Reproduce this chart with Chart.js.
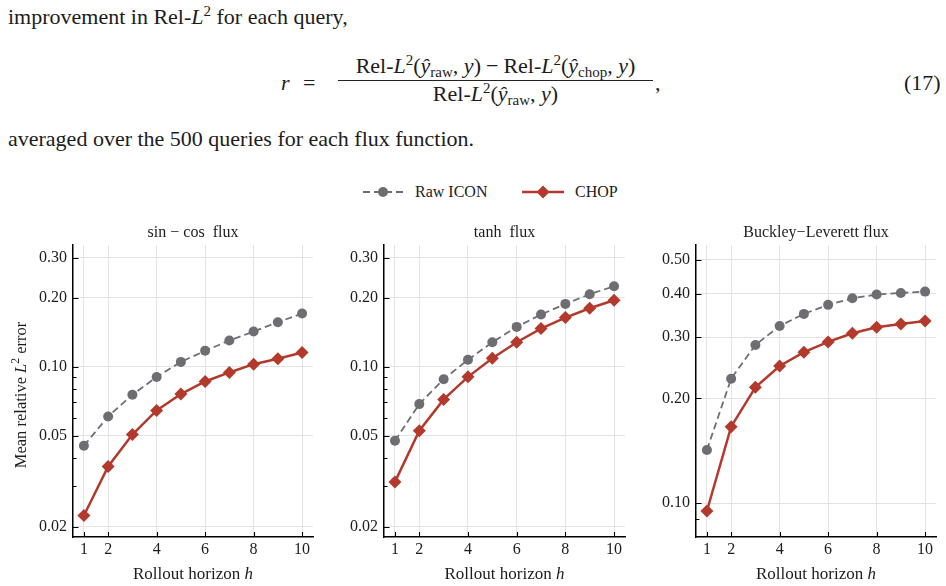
<!DOCTYPE html>
<html lang="en">
<head>
<meta charset="UTF-8">
<title>Mean relative L2 error vs rollout horizon</title>
<script src="https://cdn.jsdelivr.net/npm/chart.js"></script>
<style>
  body { margin: 0; width: 946px; height: 586px; background: #fff; position: relative; overflow: hidden;
         font-family: "Liberation Serif", serif; color: #1c1c1c; }
  .tx { position: absolute; font-size: 22px; line-height: 22px; white-space: nowrap; }
  .sup { font-size: 15px; position: relative; top: -8px; }
  .sub { font-size: 15px; position: relative; top: 4px; }
  .op { margin: 0 5px; }
  .bar { position: absolute; height: 1px; background: #222; }
  .lg { position: absolute; font-size: 16px; line-height: 16px; white-space: nowrap; }
  canvas { position: absolute; top: 215px; }
</style>
</head>
<body>
  <!-- paper text above the figure -->
  <div class="tx" style="left:8px; top:6px">improvement in Rel-<i>L</i><span class="sup">2</span> for each query,</div>

  <div class="tx" style="left:281px; top:72px"><i>r</i></div>
  <div class="tx" style="left:303px; top:72px">=</div>
  <div class="tx" style="left:338px; top:55px; width:315px; text-align:center">Rel-<i>L</i><span class="sup">2</span>(<i>ŷ</i><span class="sub">raw</span>, <i>y</i>)<span class="op">−</span>Rel-<i>L</i><span class="sup">2</span>(<i>ŷ</i><span class="sub">chop</span>, <i>y</i>)</div>
  <div class="bar" style="left:338px; top:80px; width:315px"></div>
  <div class="tx" style="left:338px; top:83px; width:315px; text-align:center">Rel-<i>L</i><span class="sup">2</span>(<i>ŷ</i><span class="sub">raw</span>, <i>y</i>)</div>
  <div class="tx" style="left:655px; top:72px">,</div>
  <div class="tx" style="left:904px; top:72px">(17)</div>

  <div class="tx" style="left:8px; top:128px">averaged over the 500 queries for each flux function.</div>

  <!-- shared legend -->
  <svg style="position:absolute; left:362px; top:182px" width="42" height="20">
    <line x1="1" y1="10" x2="41" y2="10" stroke="#6e6e72" stroke-width="1.8" stroke-dasharray="7 4"/>
    <circle cx="21" cy="10" r="5" fill="#6e6e72"/>
  </svg>
  <div class="lg" style="left:415px; top:184px">Raw ICON</div>
  <svg style="position:absolute; left:521px; top:182px" width="44" height="20">
    <line x1="1" y1="10" x2="43" y2="10" stroke="#b3392d" stroke-width="2.5"/>
    <polygon points="22,3.5 28.5,10 22,16.5 15.5,10" fill="#b3392d"/>
  </svg>
  <div class="lg" style="left:575px; top:184px">CHOP</div>

  <canvas id="sincos" width="320" height="371" style="left:0px"></canvas>
  <canvas id="tanh" width="320" height="371" style="left:320px"></canvas>
  <canvas id="buckley" width="316" height="371" style="left:630px"></canvas>

<script>
// rollout horizons and x tick labels
const horizons = [1, 2, 3, 4, 5, 6, 7, 8, 9, 10];
const xTicks = [1, 2, 4, 6, 8, 10];

// mean relative L2 error
const sinCosRaw  = [0.0452, 0.0607, 0.0755, 0.0902, 0.1051, 0.1175, 0.1303, 0.1427, 0.1567, 0.171];
const sinCosChop = [0.0224, 0.0367, 0.0506, 0.0645, 0.0760, 0.0863, 0.0945, 0.1027, 0.1084, 0.1155];
const tanhRaw    = [0.0475, 0.0687, 0.0883, 0.1073, 0.1281, 0.1495, 0.1692, 0.1884, 0.2077, 0.225];
const tanhChop   = [0.0314, 0.0526, 0.0720, 0.0904, 0.1091, 0.1281, 0.1470, 0.1642, 0.1804, 0.1955];
const buckleyRaw  = [0.1423, 0.228, 0.285, 0.323, 0.350, 0.3715, 0.388, 0.3977, 0.402, 0.4056];
const buckleyChop = [0.0950, 0.166, 0.2154, 0.248, 0.2716, 0.2908, 0.308, 0.3205, 0.3275, 0.334];

// y ticks (labelled) and minor ticks
const smallYTicks = [0.02, 0.05, 0.10, 0.20, 0.30];
const smallYMinor = [0.03, 0.04, 0.06, 0.07, 0.08, 0.09];
const buckleyYTicks = [0.10, 0.20, 0.30, 0.40, 0.50];
const buckleyYMinor = [0.09];

const FONT = "'Liberation Serif', serif";
const GRAY = '#6e6e72';
const RED = '#b3392d';
const GRID = '#e3e3e3';

function drawRich(ctx, parts, x, y, size) {
  const fontOf = p => (p.it ? 'italic ' : '') + (p.sup ? size * 0.7 : size) + 'px ' + FONT;
  let w = 0;
  parts.forEach(p => { ctx.font = fontOf(p); p.w = ctx.measureText(p.t).width; w += p.w; });
  let cx = x - w / 2;
  ctx.textAlign = 'left';
  ctx.textBaseline = 'alphabetic';
  parts.forEach(p => {
    ctx.font = fontOf(p);
    ctx.fillText(p.t, cx, y - (p.sup ? size * 0.42 : 0));
    cx += p.w;
  });
}

// inward tick marks like the matplotlib style
const inwardTicks = {
  id: 'inwardTicks',
  afterDatasetsDraw(chart) {
    const {ctx, chartArea: a, scales: {x, y}} = chart;
    ctx.save();
    ctx.strokeStyle = '#000';
    ctx.lineWidth = 1.1;
    ctx.beginPath();
    x.ticks.forEach(t => {
      const px = Math.round(x.getPixelForValue(t.value)) + 0.5;
      ctx.moveTo(px, a.bottom); ctx.lineTo(px, a.bottom - 5);
    });
    y.ticks.forEach(t => {
      const py = Math.round(y.getPixelForValue(t.value)) + 0.5;
      ctx.moveTo(a.left, py); ctx.lineTo(a.left + (t.major ? 5.5 : 3.5), py);
    });
    ctx.stroke();
    ctx.restore();
  }
};

const labels = {
  id: 'labels',
  afterDraw(chart, args, opts) {
    const {ctx, chartArea: a} = chart;
    const cx = (a.left + a.right) / 2;
    ctx.save();
    ctx.fillStyle = '#1c1c1c';
    drawRich(ctx, opts.title, cx, 22, 16);
    drawRich(ctx, [{t: 'Rollout horizon '}, {t: 'h', it: true}], cx, 364, 17);
    if (opts.yLabel) {
      ctx.translate(25.5, 395 - 215);
      ctx.rotate(-Math.PI / 2);
      drawRich(ctx, [{t: 'Mean relative '}, {t: 'L', it: true}, {t: '2', sup: true}, {t: ' error'}], 0, 0, 16.5);
    }
    ctx.restore();
  }
};

function makeChart(id, raw, chop, cfg) {
  const pts = arr => horizons.map((h, i) => ({x: h, y: arr[i]}));
  return new Chart(document.getElementById(id), {
    type: 'line',
    data: {
      datasets: [{
        label: 'CHOP',
        data: pts(chop),
        borderColor: RED,
        borderWidth: 2.5,
        pointStyle: 'rectRot',
        pointRadius: 6.5,
        pointBackgroundColor: RED,
        pointBorderWidth: 0
      }, {
        label: 'Raw ICON',
        data: pts(raw),
        borderColor: GRAY,
        borderWidth: 1.8,
        borderDash: [7, 4],
        pointStyle: 'circle',
        pointRadius: 5,
        pointBackgroundColor: GRAY,
        pointBorderWidth: 0
      }]
    },
    options: {
      responsive: false,
      animation: false,
      devicePixelRatio: 1,
      layout: {padding: {top: 30, right: cfg.padRight, left: 0, bottom: 0}},
      plugins: {
        legend: {display: false},
        tooltip: {enabled: false},
        labels: {title: cfg.title, yLabel: cfg.yLabel}
      },
      scales: {
        x: {
          type: 'linear',
          min: 0.55,
          max: 10.45,
          afterBuildTicks: s => { s.ticks = xTicks.map(v => ({value: v})); },
          afterFit: s => { s.height = 49; },
          ticks: {font: {family: FONT, size: 16}, color: '#1c1c1c', padding: 3, autoSkip: false, maxRotation: 0,
                  callback: v => String(v)},
          grid: {color: GRID, lineWidth: 1, drawTicks: false},
          border: {color: '#000', width: 1.5}
        },
        y: {
          type: 'logarithmic',
          min: cfg.yMin,
          max: cfg.yMax,
          afterBuildTicks: s => {
            s.ticks = cfg.yTicks.map(v => ({value: v, major: true}))
              .concat(cfg.yMinor.map(v => ({value: v, major: false})));
          },
          afterFit: s => { s.width = cfg.axisWidth; },
          ticks: {font: {family: FONT, size: 16}, color: '#1c1c1c', padding: 6, autoSkip: false,
                  callback: v => cfg.yTicks.includes(v) ? v.toFixed(2) : ''},
          grid: {color: c => (c.tick && c.tick.major) ? GRID : 'rgba(0,0,0,0)', lineWidth: 1, drawTicks: false},
          border: {color: '#000', width: 1.5}
        }
      }
    },
    plugins: [inwardTicks, labels]
  });
}

makeChart('sincos', sinCosRaw, sinCosChop, {
  title: [{t: 'sin − cos  flux'}], yLabel: true, axisWidth: 73, padRight: 7,
  yMin: 0.01803, yMax: 0.3409, yTicks: smallYTicks, yMinor: smallYMinor
});
makeChart('tanh', tanhRaw, tanhChop, {
  title: [{t: 'tanh  flux'}], yLabel: false, axisWidth: 64, padRight: 15,
  yMin: 0.01803, yMax: 0.3409, yTicks: smallYTicks, yMinor: smallYMinor
});
makeChart('buckley', buckleyRaw, buckleyChop, {
  title: [{t: 'Buckley−Leverett flux'}], yLabel: false, axisWidth: 66, padRight: 10,
  yMin: 0.080, yMax: 0.552, yTicks: buckleyYTicks, yMinor: buckleyYMinor
});
</script>
</body>
</html>
